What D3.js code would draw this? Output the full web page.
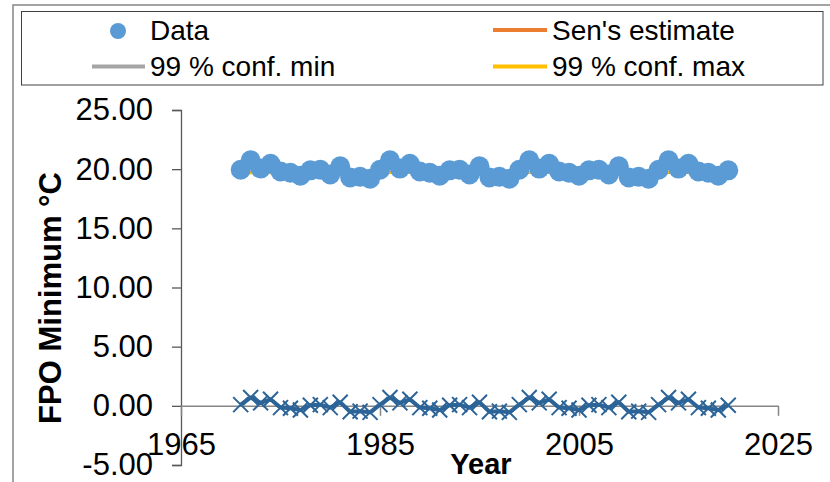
<!DOCTYPE html>
<html><head><meta charset="utf-8">
<script src="https://cdn.jsdelivr.net/npm/d3@7"></script>
<style>
html,body{margin:0;padding:0;background:#fff;}
svg{display:block;font-family:"Liberation Sans",Arial,sans-serif;}
</style></head>
<body><svg id="chart" width="830" height="482"></svg>
<script>
const years = [1971,1972,1973,1974,1975,1976,1977,1978,1979,1980,1981,1982,1983,1984,
  1985,1986,1987,1988,1989,1990,1991,1992,1993,1994,1995,1996,1997,1998,
  1999,2000,2001,2002,2003,2004,2005,2006,2007,2008,2009,2010,2011,2012,
  2013,2014,2015,2016,2017,2018,2019,2020];
const dataValues = [19.95,20.75,20.05,20.45,19.8,19.7,19.45,19.9,19.95,19.55,20.25,19.3,19.35,19.2,
  19.95,20.75,20.05,20.45,19.8,19.7,19.45,19.9,19.95,19.55,20.25,19.3,19.35,19.2,
  19.95,20.75,20.05,20.45,19.8,19.7,19.45,19.9,19.95,19.55,20.25,19.3,19.35,19.2,
  19.95,20.75,20.05,20.45,19.8,19.7,19.45,19.9];
const residualValues = [0.1,0.7,0.25,0.55,-0.15,-0.2,-0.35,0.05,0.1,-0.15,0.3,-0.5,-0.45,-0.55,
  0.1,0.7,0.25,0.55,-0.15,-0.2,-0.35,0.05,0.1,-0.15,0.3,-0.5,-0.45,-0.55,
  0.1,0.7,0.25,0.55,-0.15,-0.2,-0.35,0.05,0.1,-0.15,0.3,-0.5,-0.45,-0.55,
  0.1,0.7,0.25,0.55,-0.15,-0.2,-0.35,0.05];
const senYears = [1971, 2020];
const senValues = [19.72, 19.72];
const confMinValues = [19.75, 19.69];
const confMaxValues = [19.68, 19.76];
const xTicks = [1965, 1985, 2005, 2025];
const yTicks = [-5, 0, 5, 10, 15, 20, 25];
const legendLabels = ["Data", "Sen's estimate", "99 % conf. min", "99 % conf. max"];

const svg = d3.select("#chart");
const x = d3.scaleLinear().domain([1965, 2025]).range([181, 778]);
const y = d3.scaleLinear().domain([-5, 25]).range([465, 110]);

// outer chart border
svg.append("rect").attr("x", 13).attr("y", 5).attr("width", 840).attr("height", 500)
  .attr("fill", "#fff").attr("stroke", "#868686").attr("stroke-width", 1.5);

// y axis
const yAxis = d3.axisLeft(y).tickValues(yTicks).tickSize(9).tickPadding(19)
  .tickFormat(d => d.toFixed(2));
const gy = svg.append("g").attr("transform", "translate(181,0)").call(yAxis);
gy.select(".domain").attr("stroke", "#595959").attr("stroke-width", 1.3);
gy.selectAll(".tick line").attr("stroke", "#595959").attr("stroke-width", 1.3);
gy.selectAll(".tick text").attr("font-size", 31).attr("fill", "#000")
  .attr("font-family", "Liberation Sans, Arial, sans-serif");

// x axis at y=0
const xAxis = d3.axisBottom(x).tickValues(xTicks).tickSize(10).tickSizeOuter(0).tickPadding(17)
  .tickFormat(d3.format("d"));
const gx = svg.append("g").attr("transform", `translate(0,${y(0)})`).call(xAxis);
gx.select(".domain").attr("stroke", "#868686").attr("stroke-width", 1.5);
gx.selectAll(".tick line").attr("stroke", "#868686").attr("stroke-width", 1.5);
gx.selectAll(".tick text").attr("font-size", 31).attr("fill", "#000")
  .attr("font-family", "Liberation Sans, Arial, sans-serif");

// trend lines (beneath data)
const ln = d3.line().x(d => x(d[0])).y(d => y(d[1]));
svg.append("path").datum(senYears.map((t, i) => [t, confMinValues[i]]))
  .attr("d", ln).attr("fill", "none").attr("stroke", "#A5A5A5").attr("stroke-width", 2.5);
svg.append("path").datum(senYears.map((t, i) => [t, senValues[i]]))
  .attr("d", ln).attr("fill", "none").attr("stroke", "#ED7D31").attr("stroke-width", 2.5);
svg.append("path").datum(senYears.map((t, i) => [t, confMaxValues[i]]))
  .attr("d", ln).attr("fill", "none").attr("stroke", "#FFC000").attr("stroke-width", 2.5);

// residual series (line + x markers)
const resid = years.map((t, i) => [t, residualValues[i]]);
svg.append("path").datum(resid).attr("d", ln).attr("fill", "none")
  .attr("stroke", "#2C6498").attr("stroke-width", 4).attr("stroke-linejoin", "round");
const m = 7.5;
svg.append("g").selectAll("path").data(resid).join("path")
  .attr("d", d => { const cx = x(d[0]), cy = y(d[1]);
    return `M${cx-m},${cy-m}L${cx+m},${cy+m}M${cx-m},${cy+m}L${cx+m},${cy-m}`; })
  .attr("stroke", "#2C6498").attr("stroke-width", 2);

// data circles
svg.append("g").selectAll("circle").data(years.map((t, i) => [t, dataValues[i]])).join("circle")
  .attr("cx", d => x(d[0])).attr("cy", d => y(d[1])).attr("r", 10).attr("fill", "#5B9BD5");

// axis titles
svg.append("text").attr("x", 481).attr("y", 474).attr("text-anchor", "middle")
  .attr("font-size", 29).attr("font-weight", "bold").text("Year");
svg.append("text").attr("transform", "translate(61,298) rotate(-90)").attr("text-anchor", "middle")
  .attr("font-size", 31).attr("font-weight", "bold").text("FPO Minimum °C");

// legend
const lg = svg.append("g");
lg.append("rect").attr("x", 21.5).attr("y", 11.5).attr("width", 801.5).attr("height", 73.5)
  .attr("fill", "#fff").attr("stroke", "#404040").attr("stroke-width", 1);
lg.append("circle").attr("cx", 118).attr("cy", 31).attr("r", 8).attr("fill", "#5B9BD5");
lg.append("line").attr("x1", 493).attr("x2", 547).attr("y1", 30).attr("y2", 30)
  .attr("stroke", "#ED7D31").attr("stroke-width", 4);
lg.append("line").attr("x1", 92).attr("x2", 145).attr("y1", 66.5).attr("y2", 66.5)
  .attr("stroke", "#A5A5A5").attr("stroke-width", 4);
lg.append("line").attr("x1", 493).attr("x2", 547).attr("y1", 66.5).attr("y2", 66.5)
  .attr("stroke", "#FFC000").attr("stroke-width", 4);
const lpos = [[150, 40], [552, 40], [150, 76], [552, 76]];
lg.selectAll("text").data(legendLabels).join("text")
  .attr("x", (d, i) => lpos[i][0]).attr("y", (d, i) => lpos[i][1])
  .attr("font-size", 28).attr("fill", "#000").text(d => d);
</script></body></html>
